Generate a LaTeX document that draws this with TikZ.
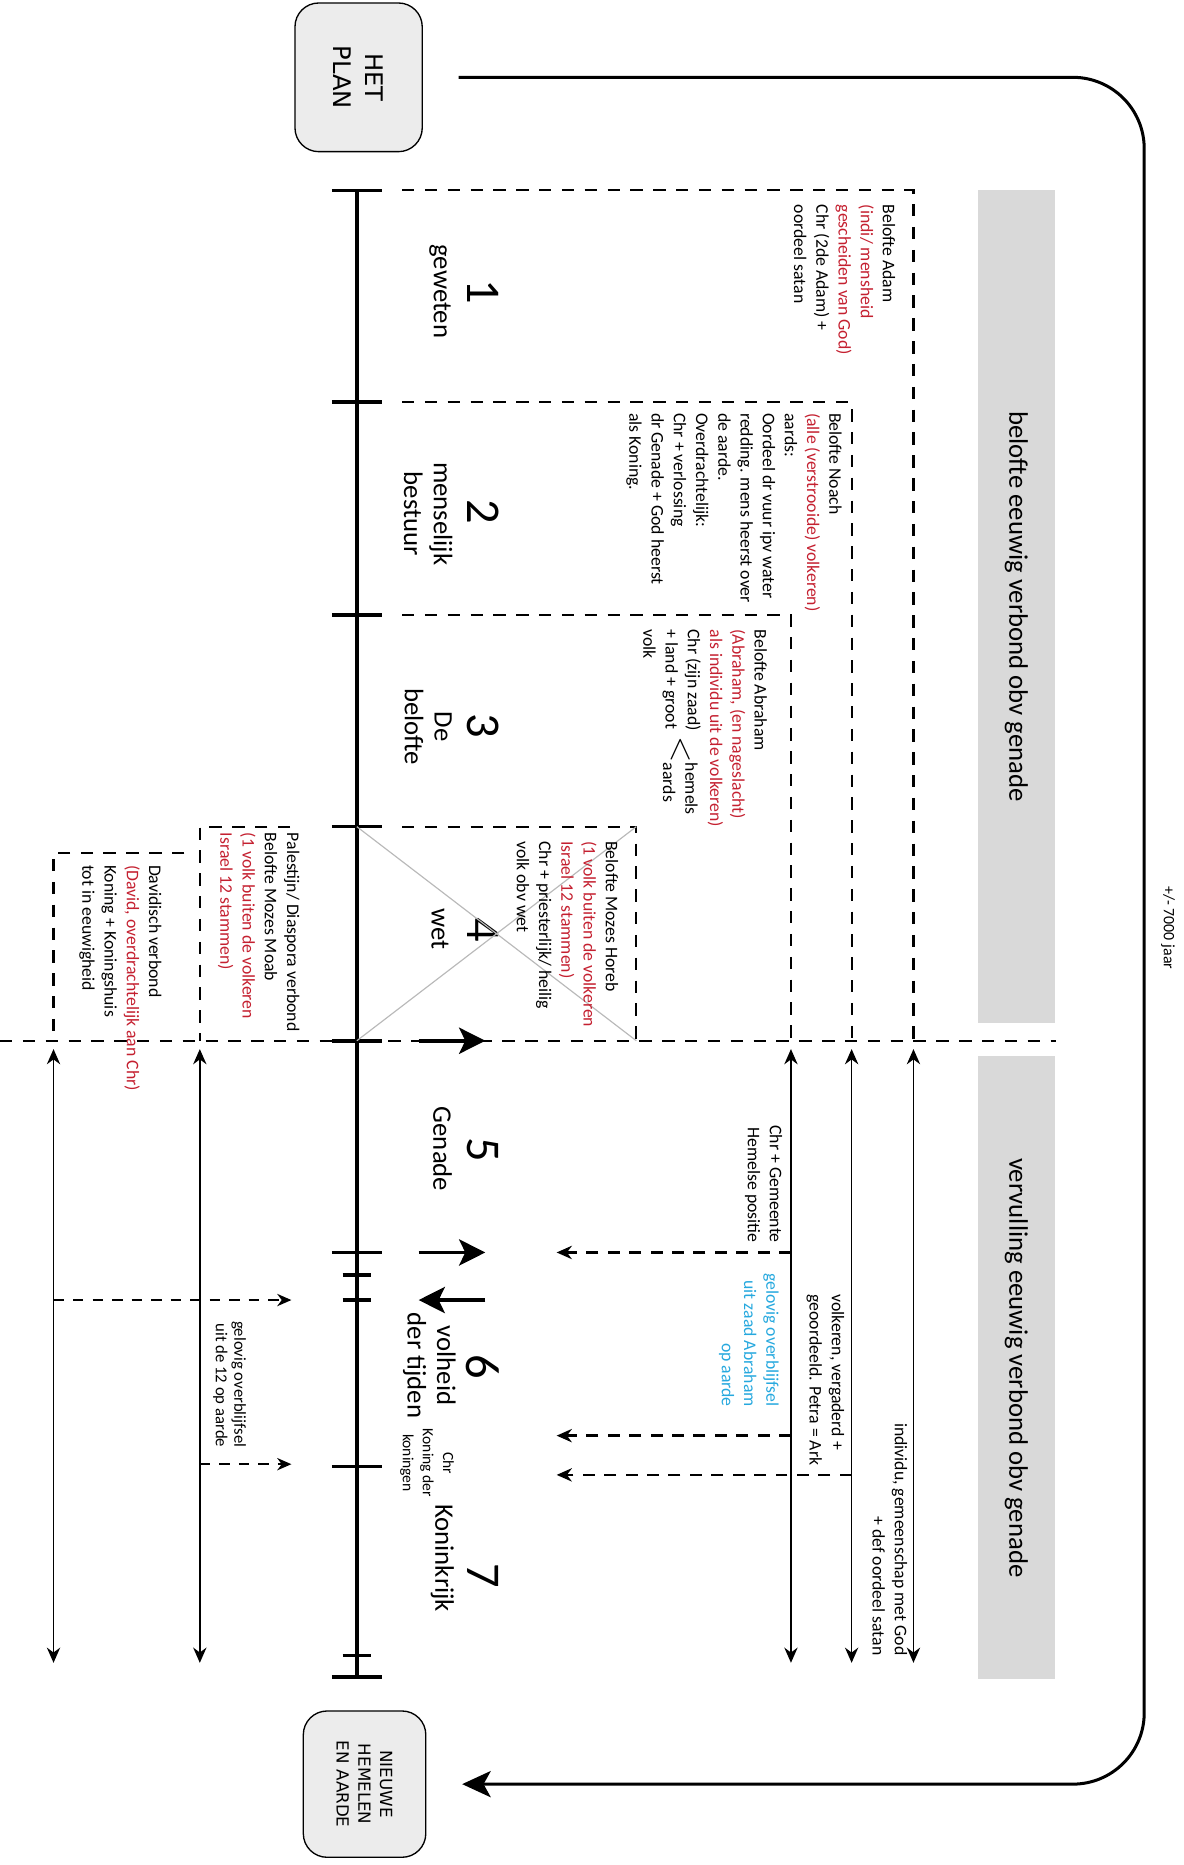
\documentclass[tikz,border=0pt]{standalone}
\usepackage{fontspec}
\setmainfont{Carlito}
\newfontfamily\blokfont{DejaVu Sans}
\usetikzlibrary{arrows.meta}

\definecolor{rood}{RGB}{196,32,48}
\definecolor{cyaan}{RGB}{38,168,222}
\definecolor{balk}{RGB}{217,217,217}
\definecolor{blok}{RGB}{236,236,236}
\newcommand{\roodtxt}[1]{\textcolor{rood}{#1}}

\tikzset{
  tekst/.style={font=\fontsize{10.6}{13.3}\selectfont, align=left, inner sep=0pt},
  nummer/.style={font=\fontsize{29}{29}\selectfont, inner sep=0pt},
  periode/.style={font=\fontsize{16}{17.7}\selectfont, align=center, inner sep=0pt},
  eindblok/.style={draw, fill=blok, rounded corners=5mm, line width=0.8pt, align=center, inner sep=0pt},
  grijsbalk/.style={fill=balk, inner sep=0pt, minimum height=16.25mm, font=\fontsize{16}{17.7}\selectfont},
  stippel/.style={line width=1.3pt, dash pattern=on 2.6mm off 2.2mm},
  tijd/.style={line width=2.1pt},
  pijl/.style={line width=0.9pt, {Stealth[length=3.2mm,width=2.8mm]}-{Stealth[length=3.2mm,width=2.8mm]}},
  stippelpijl/.style={line width=1.4pt, dash pattern=on 2.5mm off 2mm, -{Stealth[length=3.2mm,width=2.8mm]}},
  dunpijl/.style={line width=1pt, dash pattern=on 2.2mm off 1.9mm, -{Stealth[length=3mm,width=2.6mm]}},
  dikpijl/.style={line width=2.2pt, -{Stealth[length=5.5mm,width=5.5mm,inset=1.3mm]}},
  rand/.style={line width=1.8pt, rounded corners=15mm, -{Stealth[length=6mm,width=5.5mm,inset=1.5mm]}},
}

\begin{document}
\begin{tikzpicture}[x=0.25mm, y=0.25mm]
\useasboundingbox (0,0) rectangle (995,-1568);
\begin{scope}[rotate=-90, transform shape]
    % begin en einde
    \node[eindblok, font=\blokfont\fontsize{14.5}{19}\selectfont, minimum width=31.25mm, minimum height=26.75mm] (plan) at (65,301.5) {HET\\PLAN};
    \node[eindblok, font=\blokfont\fontsize{10}{13}\selectfont, minimum width=30.75mm, minimum height=25.75mm] (nieuw) at (1500,306.5) {NIEUWE\\HEMELEN\\EN AARDE};
    \draw[rand, shorten <=7.5mm, shorten >=7.5mm] (plan.north) |- (1500,962) -- (nieuw.north);
    \node[font=\fontsize{9.5}{10}\selectfont, inner sep=0pt] (jaren) at (780,982) {+/- 7000 jaar};

    % grijze balken
    \node[grijsbalk, minimum width=175mm] (belofte) at (510,854.5) {belofte eeuwig verbond obv genade};
    \node[grijsbalk, minimum width=131mm] (vervulling) at (1150,854.5) {vervulling eeuwig verbond obv genade};

    % tijdlijn
    \coordinate (start) at (160,300);
    \coordinate (einde) at (1410,300);
    \draw[tijd] (start) -- (einde);
    \foreach \t in {160,338,517,695,875,1053,1233,1410}
        \draw[tijd] (\t,279) -- (\t,321);
    \foreach \t in {1072,1093,1392}
        \draw[tijd] (\t,288) -- (\t,312);

    \foreach \t/\n in {245/1,430/2,610/3,782/4,967/5,1149/6,1325/7}
        \node[nummer] (nr\n) at (\t,406) {\n};
    \node[periode] (p1) at (245,370) {geweten};
    \node[periode] (p2) at (432,360) {menselijk\\bestuur};
    \node[periode] (p3) at (611,360) {De\\belofte};
    \node[periode] (p4) at (781,370) {wet};
    \node[periode] (p5) at (966,372) {Genade};
    \node[periode] (p6) at (1148,361) {volheid\\der tijden};
    \node[periode] (p7) at (1310,372) {Koninkrijk};
    \node[tekst, align=center, font=\fontsize{9.3}{12}\selectfont] (koning) at (1230,359) {Chr\\Koning der\\koningen};

    % dikke pijlen
    \coordinate (w1) at (875,352);  \coordinate (w1e) at (875,408);
    \coordinate (w2) at (1053,352); \coordinate (w2e) at (1053,408);
    \coordinate (w3) at (1093,408); \coordinate (w3e) at (1093,352);
    \draw[dikpijl] (w1) -- (w1e);
    \draw[dikpijl] (w2) -- (w2e);
    \draw[dikpijl] (w3) -- (w3e);

    % kaders
    \draw[stippel] (160,338) -- (160,768) -- (875,768);
    \draw[stippel] (338,338) -- (338,716) -- (875,716);
    \draw[stippel] (517,338) -- (517,665) -- (875,665);
    \draw[stippel] (695,338) -- (695,535) -- (875,535);
    \draw[stippel] (695,244) -- (695,168) -- (875,168);
    \draw[stippel] (717,155) -- (717,45) -- (875,45);
    \draw[stippel] (875,0) -- (875,888);
    \draw[gray!55, line width=0.7pt] (695,300) -- (875,535) (875,300) -- (695,535);

    \node[tekst, anchor=north west] (adam) at (172,753) {Belofte Adam\\\roodtxt{(indi/ mensheid}\\\roodtxt{gescheiden van God)}\\Chr (2de Adam) +\\oordeel satan};
    \node[tekst, anchor=north west] (noach) at (347,708) {Belofte Noach\\\roodtxt{(alle (verstrooide) volkeren)}\\aards:\\Oordeel dr vuur ipv water\\redding. mens heerst over\\de aarde.\\Overdrachtelijk:\\Chr + verlossing\\dr Genade + God heerst\\als Koning.};
    \node[tekst, anchor=north west] (abraham) at (529,645) {Belofte Abraham\\\roodtxt{(Abraham, (en nageslacht)}\\\roodtxt{als individu uit de volkeren)}\\Chr (zijn zaad)\\+ land + groot\\volk};
    \node[inner sep=0pt, font=\fontsize{20}{20}\selectfont] (kleiner) at (630,572) {$<$};
    \node[tekst, anchor=west] (hemels) at (641,572) {hemels\\aards};
    \node[tekst, anchor=north west] (horeb) at (707,520) {Belofte Mozes Horeb\\\roodtxt{(1 volk buiten de volkeren}\\\roodtxt{Israel 12 stammen)}\\Chr + priesterlijk/ heilig\\volk obv wet};
    \node[tekst, anchor=north west] (moab) at (700,252) {Palestijn/ Diaspora verbond\\Belofte Mozes Moab\\\roodtxt{(1 volk buiten de volkeren}\\\roodtxt{Israel 12 stammen)}};
    \node[tekst, anchor=north west] (david) at (727,136) {Davidisch verbond\\\roodtxt{(David, overdrachtelijk aan Chr)}\\Koning + Koningshuis\\tot in eeuwigheid};

    % vervulling
    \foreach \n/\y in {a/768,b/716,c/665,e/168,f/45}{
        \coordinate (van\n) at (882,\y);
        \coordinate (tot\n) at (1398,\y);
        \draw[pijl] (van\n) -- (tot\n);
    }
    \coordinate (gem) at (1053,665);   \coordinate (geme) at (1053,468);
    \coordinate (zaad) at (1207,665);  \coordinate (zaade) at (1207,468);
    \coordinate (volk) at (1240,716);  \coordinate (volke) at (1240,468);
    \coordinate (twaalf) at (1093,45); \coordinate (twaalfe) at (1093,245);
    \coordinate (kon) at (1231,168);   \coordinate (kone) at (1231,245);
    \draw[stippelpijl] (gem) -- (geme);
    \draw[stippelpijl] (zaad) -- (zaade);
    \draw[stippelpijl] (volk) -- (volke);
    \draw[dunpijl] (twaalf) -- (twaalfe);
    \draw[dunpijl] (kon) -- (kone);

    \node[tekst, align=right, anchor=north east] (gemtxt) at (1045,658) {Chr + Gemeente\\Hemelse positie};
    \node[tekst, align=right, anchor=north east, text=cyaan] (zaadtxt) at (1183,655) {gelovig overblijfsel\\uit zaad Abraham\\op aarde};
    \node[tekst, anchor=north west] (volktxt) at (1088,710) {volkeren, vergaderd +\\geoordeeld. Petra = Ark};
    \node[tekst, align=right, anchor=north east] (indtxt) at (1392,763) {individu, gemeenschap met God\\+ def oordeel satan};
    \node[tekst, align=right, anchor=north east, font=\fontsize{10}{11}\selectfont] (twaalftxt) at (1217,207) {gelovig overblijfsel\\uit de 12 op aarde};
\end{scope}
\end{tikzpicture}
\end{document}
